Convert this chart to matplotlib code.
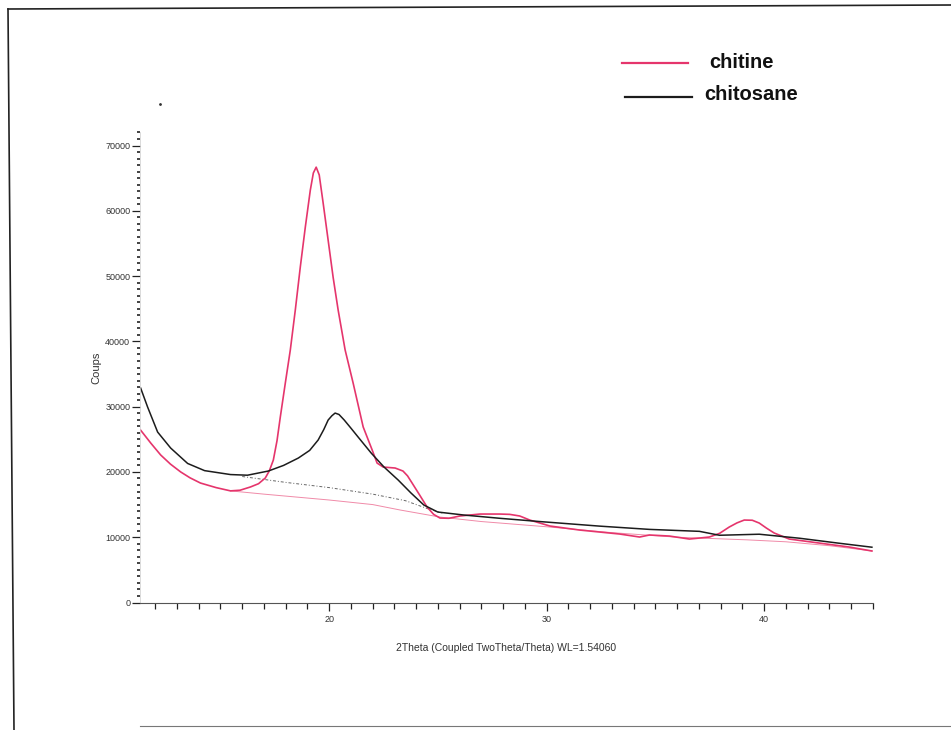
import matplotlib
matplotlib.use("Agg")
import matplotlib.pyplot as plt
from matplotlib.lines import Line2D
from matplotlib.ticker import MultipleLocator

plt.rcParams['font.family'] = ['Liberation Sans', 'DejaVu Sans']

# chitine (rose)
chitine_x = [11.33, 11.8, 12.25, 12.7, 13.17, 13.6, 14.08, 14.8, 15.46, 15.9, 16.38, 16.75,
             17.06, 17.25, 17.43, 17.6, 17.75, 17.98, 18.21, 18.44, 18.67, 18.90, 19.13,
             19.27, 19.40, 19.54, 19.72, 19.95, 20.18, 20.41, 20.73, 21.10, 21.56, 21.97,
             22.20, 22.48, 23.03, 23.39, 23.60, 23.81, 24.15, 24.50, 24.80, 25.09, 25.5,
             26.01, 26.93, 27.84, 28.30, 28.76, 29.22, 30.14, 31.51, 33.35, 34.27, 34.72,
             35.64, 36.56, 37.48, 37.95, 38.39, 38.75, 39.08, 39.45, 39.77, 40.10, 40.46,
             41.15, 42.52, 43.90, 44.95]
chitine_y = [26400, 24400, 22600, 21200, 20000, 19100, 18300, 17600, 17100, 17200, 17700, 18200,
             19070, 20200, 21820, 24800, 28400, 33600, 38670, 44800, 51400, 57500, 63170,
             65800, 66690, 65500, 61200, 55500, 49800, 44800, 38700, 33600, 26900, 23400,
             21360, 20750, 20600, 20140, 19400, 18300, 16500, 14620, 13500, 12940, 12900,
             13250, 13550, 13550, 13500, 13250, 12630, 11720, 11100, 10490, 10030, 10340,
             10180, 9720, 10030, 10600, 11560, 12200, 12630, 12600, 12170, 11400, 10640,
             9720, 9110, 8500, 7890]

# chitosane (noir)
chitosane_x = [11.33, 11.65, 12.11, 12.71, 13.49, 14.27, 15.46, 16.24, 17.20, 17.90, 18.58,
               19.10, 19.49, 19.75, 19.95, 20.12, 20.27, 20.45, 20.69, 21.00, 21.33, 21.93,
               22.52, 23.17, 23.76, 24.35, 24.99, 26.19, 27.84, 29.68, 32.43, 34.72, 37.02,
               37.94, 39.77, 41.61, 43.44, 44.95]
chitosane_y = [32850, 29940, 26110, 23660, 21300, 20200, 19600, 19500, 20140, 21000, 22130,
               23300, 24890, 26500, 27950, 28600, 29020, 28800, 27950, 26700, 25340, 22890,
               20750, 18760, 16770, 14930, 13860, 13400, 12900, 12400, 11700, 11200, 10900,
               10300, 10460, 9850, 9080, 8470]

# lignes de fond
fond_chitine_x = [15.46, 17.0, 19.0, 20.0, 22.0, 23.26, 25.09, 27.0, 30.0, 33.0, 36.0,
                  39.2, 41.0, 43.0, 44.95]
fond_chitine_y = [17100, 16600, 16000, 15700, 15000, 14170, 13090, 12400, 11600, 10700,
                  10000, 9600, 9300, 8700, 7900]
fond_chitosane_x = [16.0, 18.0, 20.0, 22.0, 23.5, 24.5, 25.2]
fond_chitosane_y = [19300, 18400, 17600, 16600, 15600, 14400, 13700]

rose = '#e5356c'
noir = '#1c1c1c'

fig = plt.figure(figsize=(9.51, 7.30), dpi=100)
ax = fig.add_axes([140/951, 1 - 602.5/730, 733/951, 470/730])

ax.plot(fond_chitine_x, fond_chitine_y, color='#f08aa8', lw=0.7)
ax.plot(fond_chitosane_x, fond_chitosane_y, color='#666666', lw=0.7, ls=(0, (3, 2, 1, 2)))
ax.plot(chitine_x, chitine_y, color=rose, lw=1.2)
ax.plot(chitosane_x, chitosane_y, color=noir, lw=1.1)

ax.set_xlim(11.3, 45.0)
ax.set_ylim(0, 72000)

for s in ['top', 'right']:
    ax.spines[s].set_visible(False)
ax.spines['left'].set_color('#cccccc')
ax.spines['left'].set_linewidth(0.5)
ax.spines['bottom'].set_color('#555555')
ax.spines['bottom'].set_linewidth(0.8)

ax.xaxis.set_major_locator(MultipleLocator(10))
ax.xaxis.set_minor_locator(MultipleLocator(1))
ax.yaxis.set_major_locator(MultipleLocator(10000))
ax.yaxis.set_minor_locator(MultipleLocator(1000))
ax.tick_params(axis='y', which='major', length=6, width=0.9, labelsize=6.5, pad=1,
               color='#222222', labelcolor='#333333')
ax.tick_params(axis='y', which='minor', length=2, width=1.2, color='#222222')
ax.tick_params(axis='x', which='major', length=6, width=0.9, labelsize=6.5, pad=3,
               color='#222222', labelcolor='#333333')
ax.tick_params(axis='x', which='minor', length=4, width=0.9, color='#222222')

ax.set_ylabel('Coups', fontsize=8, labelpad=3, color='#333333')
ax.set_xlabel('2Theta (Coupled TwoTheta/Theta) WL=1.54060', fontsize=7.5, labelpad=14,
              color='#333333')

# legende
fig.add_artist(Line2D([622/951, 688/951], [1 - 63/730, 1 - 63/730], color=rose, lw=1.6))
fig.add_artist(Line2D([625/951, 692/951], [1 - 97/730, 1 - 97/730], color=noir, lw=1.6))
fig.text(709/951, 1 - 63/730, 'chitine', fontsize=14.5, fontweight='bold', va='center',
         color='#111111')
fig.text(704/951, 1 - 94/730, 'chitosane', fontsize=14.5, fontweight='bold', va='center',
         color='#111111')

# cadre de la page scannee
fig.add_artist(Line2D([8/951, 951/951], [1 - 9/730, 1 - 5/730], color='#222222', lw=1.2))
fig.add_artist(Line2D([8/951, 14/951], [1 - 9/730, 0], color='#222222', lw=1.2))
fig.add_artist(Line2D([140/951, 951/951], [1 - 726/730, 1 - 726/730], color='#777777', lw=0.8))
fig.add_artist(Line2D([160/951], [1 - 104/730], color='#333333', marker='.', ms=2, lw=0))

fig.savefig('out.png', dpi=100)
